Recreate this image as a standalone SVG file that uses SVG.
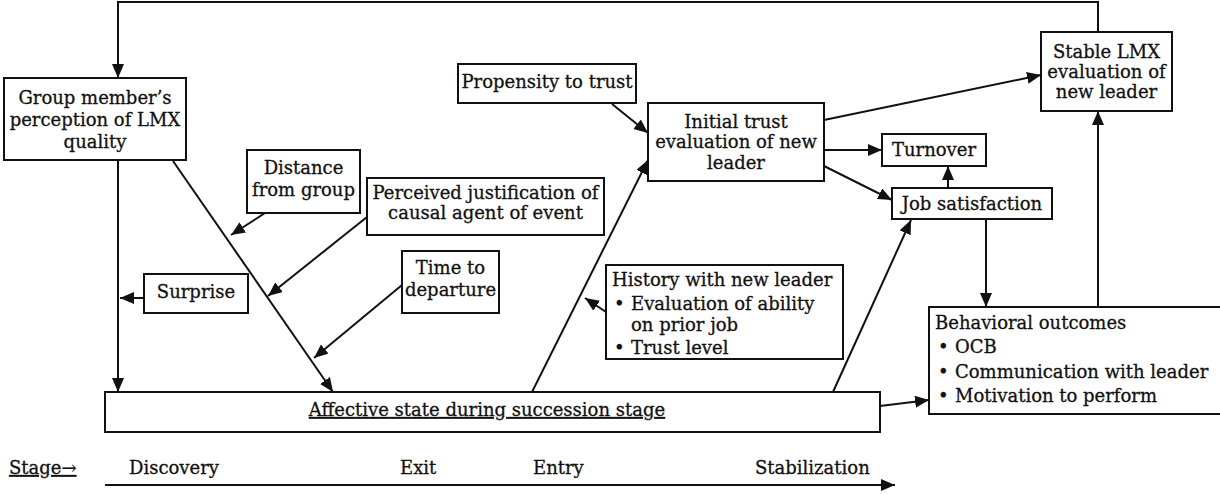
<svg xmlns="http://www.w3.org/2000/svg" width="1220" height="494" viewBox="0 0 1220 494">
  <style>
    .box { fill: #fff; stroke: #111; stroke-width: 2; }
    .lbl { font-family: "DejaVu Serif", "Liberation Serif", serif; font-size: 18px; fill: #111; stroke: #111; stroke-width: 0.3; }
    .mid { text-anchor: middle; }
    .stage { font-family: "DejaVu Serif", "Liberation Serif", serif; font-size: 18px; fill: #111; stroke: #111; stroke-width: 0.3; }
    .wire { fill: none; stroke: #111; stroke-width: 2; }
    .arr { marker-end: url(#head); }
  </style>
  <defs>
    <marker id="head" markerUnits="userSpaceOnUse" markerWidth="16" markerHeight="14" refX="14" refY="6" orient="auto">
      <path d="M0,0 L14,6 L0,12 Z" fill="#111"/>
    </marker>
  </defs>

  <rect width="1220" height="494" fill="#fff"/>

  <!-- connectors -->
  <g id="connectors">
    <!-- feedback loop from stable LMX back to the group member -->
    <polyline class="wire arr" points="1098,32 1098,2 118,2 118,78"/>
    <line class="wire arr" x1="118" y1="160" x2="118" y2="392"/>
    <line class="wire arr" x1="144" y1="298" x2="120" y2="298"/>
    <line class="wire arr" x1="173" y1="161" x2="333" y2="392"/>
    <line class="wire arr" x1="265" y1="213" x2="231" y2="235"/>
    <line class="wire arr" x1="367" y1="217" x2="268" y2="296"/>
    <line class="wire arr" x1="402" y1="285" x2="314" y2="358"/>
    <line class="wire arr" x1="532" y1="392" x2="648" y2="160"/>
    <line class="wire arr" x1="606" y1="312" x2="585" y2="298"/>
    <line class="wire arr" x1="612" y1="104" x2="648" y2="133"/>
    <line class="wire arr" x1="824" y1="120" x2="1041" y2="75"/>
    <line class="wire arr" x1="824" y1="150" x2="882" y2="150"/>
    <line class="wire arr" x1="824" y1="166" x2="892" y2="200"/>
    <line class="wire arr" x1="948" y1="188" x2="948" y2="166"/>
    <line class="wire arr" x1="833" y1="392" x2="911" y2="220"/>
    <line class="wire arr" x1="986" y1="219" x2="986" y2="307"/>
    <line class="wire arr" x1="1098" y1="307" x2="1098" y2="111"/>
    <line class="wire arr" x1="880" y1="406" x2="929" y2="400"/>
  </g>

  <!-- nodes -->
  <g id="group-member">
    <rect class="box" x="4" y="78" width="182" height="82"/>
    <text class="lbl mid" x="95" y="104">Group member’s</text>
    <text class="lbl mid" x="95" y="126">perception of LMX</text>
    <text class="lbl mid" x="95" y="148">quality</text>
  </g>

  <g id="distance">
    <rect class="box" x="247" y="150" width="113" height="63"/>
    <text class="lbl mid" x="303.5" y="174">Distance</text>
    <text class="lbl mid" x="303.5" y="196">from group</text>
  </g>

  <g id="justification">
    <rect class="box" x="367" y="178" width="237" height="57"/>
    <text class="lbl mid" x="485.5" y="199">Perceived justification of</text>
    <text class="lbl mid" x="485.5" y="219">causal agent of event</text>
  </g>

  <g id="surprise">
    <rect class="box" x="144" y="274" width="104" height="39"/>
    <text class="lbl mid" x="196" y="298">Surprise</text>
  </g>

  <g id="time-to-departure">
    <rect class="box" x="402" y="251" width="97" height="62"/>
    <text class="lbl mid" x="450.5" y="274">Time to</text>
    <text class="lbl mid" x="450.5" y="296">departure</text>
  </g>

  <g id="propensity">
    <rect class="box" x="458" y="64" width="178" height="39"/>
    <text class="lbl mid" x="547" y="88">Propensity to trust</text>
  </g>

  <g id="initial-trust">
    <rect class="box" x="648" y="103" width="176" height="78"/>
    <text class="lbl mid" x="736" y="128">Initial trust</text>
    <text class="lbl mid" x="736" y="148">evaluation of new</text>
    <text class="lbl mid" x="736" y="169">leader</text>
  </g>

  <g id="history">
    <rect class="box" x="606" y="265" width="237" height="94"/>
    <text class="lbl" x="612" y="286">History with new leader</text>
    <text class="lbl" x="614" y="310">•</text>
    <text class="lbl" x="631" y="310">Evaluation of ability</text>
    <text class="lbl" x="631" y="331">on prior job</text>
    <text class="lbl" x="614" y="354">•</text>
    <text class="lbl" x="631" y="354">Trust level</text>
  </g>

  <g id="stable-lmx">
    <rect class="box" x="1041" y="32" width="131" height="79"/>
    <text class="lbl mid" x="1106.5" y="58">Stable LMX</text>
    <text class="lbl mid" x="1106.5" y="78">evaluation of</text>
    <text class="lbl mid" x="1106.5" y="98">new leader</text>
  </g>

  <g id="turnover">
    <rect class="box" x="882" y="134" width="104" height="32"/>
    <text class="lbl mid" x="934" y="156">Turnover</text>
  </g>

  <g id="job-satisfaction">
    <rect class="box" x="892" y="188" width="160" height="31"/>
    <text class="lbl mid" x="972" y="210">Job satisfaction</text>
  </g>

  <g id="behavioral-outcomes">
    <rect class="box" x="929" y="307" width="300" height="107"/>
    <text class="lbl" x="935" y="329">Behavioral outcomes</text>
    <text class="lbl" x="938" y="353">•</text>
    <text class="lbl" x="955" y="353">OCB</text>
    <text class="lbl" x="938" y="378">•</text>
    <text class="lbl" x="955" y="378">Communication with leader</text>
    <text class="lbl" x="938" y="402">•</text>
    <text class="lbl" x="955" y="402">Motivation to perform</text>
  </g>

  <g id="affective-state">
    <rect class="box" x="105" y="392" width="775" height="40"/>
    <text class="lbl mid" x="487" y="416" text-decoration="underline">Affective state during succession stage</text>
  </g>

  <!-- stage timeline -->
  <g id="stage-axis">
    <text class="stage" x="9" y="474" text-decoration="underline">Stage→</text>
    <text class="stage" x="129" y="474">Discovery</text>
    <text class="stage" x="400" y="474">Exit</text>
    <text class="stage" x="533" y="474">Entry</text>
    <text class="stage" x="755" y="474">Stabilization</text>
    <line class="wire arr" x1="105" y1="485" x2="895" y2="485"/>
  </g>
</svg>
